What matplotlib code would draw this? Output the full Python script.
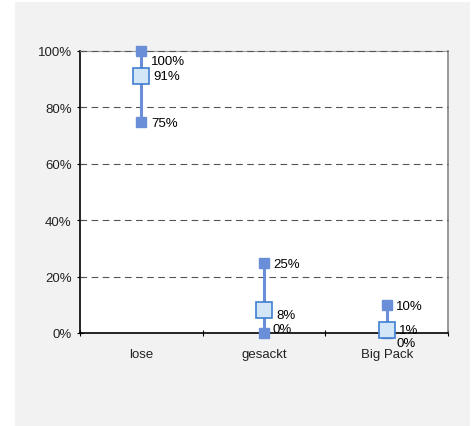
import matplotlib.pyplot as plt
from matplotlib.patches import Rectangle

plt.rcParams['font.family'] = ['Liberation Sans', 'DejaVu Sans']

categories = ['lose', 'gesackt', 'Big Pack']
max_vals = [100, 25, 10]
mean_vals = [91, 8, 1]
min_vals = [75, 0, 0]
y_ticks = [0, 20, 40, 60, 80, 100]

fig = plt.figure(figsize=(4.75, 4.27), dpi=100)
fig.patch.set_facecolor('white')
fig.patches.append(Rectangle((15/475, 0), 455/475, 424/427, transform=fig.transFigure,
                             facecolor='#f2f2f2', edgecolor='none', zorder=-10))

ax = fig.add_axes([80/475, 93/427, 368/475, 282/427])
ax.set_facecolor('white')

line_c = '#6a8fd8'
x = list(range(len(categories)))
for i in x:
    ax.plot([i, i], [min_vals[i], max_vals[i]], color=line_c, lw=2.2, zorder=3,
            solid_capstyle='butt', clip_on=False)
ax.plot(x, max_vals, 's', color=line_c, ms=7, ls='none', zorder=4, clip_on=False)
ax.plot(x, min_vals, 's', color=line_c, ms=7, ls='none', zorder=4, clip_on=False)
ax.plot(x, mean_vals, 's', mfc='#d3e6f8', mec='#3f7fd0', mew=1.2, ms=12, ls='none', zorder=5, clip_on=False)

# labels
fs = 9.5
offsets_max = [(7, -7), (7, -1), (7, -1)]
offsets_mean = [(9, 0), (9, -3), (9, 0)]
offsets_min = [(7, -1), (6, 3), (7, -7)]
for i in x:
    ax.annotate('%d%%' % max_vals[i], (i, max_vals[i]), xytext=offsets_max[i], textcoords='offset points',
                va='center', ha='left', fontsize=fs)
    ax.annotate('%d%%' % mean_vals[i], (i, mean_vals[i]), xytext=offsets_mean[i], textcoords='offset points',
                va='center', ha='left', fontsize=fs)
    ax.annotate('%d%%' % min_vals[i], (i, min_vals[i]), xytext=offsets_min[i], textcoords='offset points',
                va='center', ha='left', fontsize=fs)

ax.set_xlim(-0.5, 2.5)
ax.set_ylim(0, 100)
ax.set_yticks(y_ticks)
ax.set_yticklabels(['%d%%' % v for v in y_ticks], fontsize=fs, color='#222222')
ax.set_xticks([-0.5, 0.5, 1.5, 2.5])
ax.set_xticklabels([])
ax.set_xticks(x, minor=True)
ax.set_xticklabels(categories, minor=True, fontsize=fs, color='#222222')
ax.tick_params(axis='x', which='minor', length=0, pad=11)
ax.tick_params(axis='x', which='major', length=4, direction='inout', width=0.8)
ax.tick_params(axis='y', length=4, direction='inout', width=0.8, pad=4)

for y in y_ticks[1:]:
    ax.axhline(y, color='#555555', lw=0.8, ls=(0, (6, 4)), zorder=2.6, clip_on=False)

ax.spines['left'].set_color('black')
ax.spines['left'].set_linewidth(1.2)
ax.spines['bottom'].set_color('black')
ax.spines['bottom'].set_linewidth(1.2)
ax.spines['top'].set_color('#999999')
ax.spines['right'].set_color('#888888')
ax.spines['right'].set_linewidth(1.2)

fig.savefig('out.png', dpi=100)
